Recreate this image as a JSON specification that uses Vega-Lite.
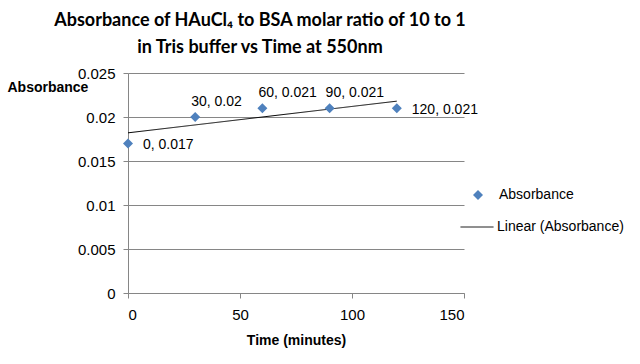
{
  "$schema": "https://vega.github.io/schema/vega-lite/v6.json",
  "width": 336,
  "height": 220,
  "autosize": {"type": "none"},
  "padding": {"left": 128, "top": 73, "right": 176, "bottom": 71},
  "background": "white",
  "title": {
    "text": ["Absorbance of HAuCl₄ to BSA molar ratio of 10 to 1", "in Tris buffer vs Time at 550nm"],
    "anchor": "middle",
    "frame": "group",
    "dx": -36,
    "offset": 9,
    "font": "Lato",
    "fontSize": 18,
    "fontWeight": "bold",
    "color": "#000000",
    "lineHeight": 27
  },
  "data": {
    "values": [
      {"time": 0, "absorbance": 0.017, "label": "0, 0.017"},
      {"time": 30, "absorbance": 0.02, "label": "30, 0.02"},
      {"time": 60, "absorbance": 0.021, "label": "60, 0.021"},
      {"time": 90, "absorbance": 0.021, "label": "90, 0.021"},
      {"time": 120, "absorbance": 0.021, "label": "120, 0.021"}
    ]
  },
  "config": {
    "view": {"stroke": null},
    "font": "Liberation Sans",
    "axis": {
      "labelFont": "Liberation Sans",
      "labelFontSize": 15,
      "labelColor": "#000000",
      "titleFont": "Liberation Sans",
      "titleFontSize": 14,
      "titleFontWeight": "bold",
      "titleColor": "#000000",
      "domainColor": "#868686",
      "tickColor": "#868686",
      "gridColor": "#868686",
      "tickSize": 5
    },
    "legend": {
      "labelFont": "Liberation Sans",
      "labelFontSize": 14,
      "labelColor": "#000000"
    }
  },
  "encoding": {
    "x": {
      "field": "time",
      "type": "quantitative",
      "scale": {"domain": [0, 150], "nice": false},
      "axis": {
        "values": [0, 50, 100, 150],
        "grid": false,
        "title": "Time (minutes)",
        "labelPadding": 9,
        "titlePadding": 11
      }
    },
    "y": {
      "field": "absorbance",
      "type": "quantitative",
      "scale": {"domain": [0, 0.025], "nice": false},
      "axis": {
        "values": [0, 0.005, 0.01, 0.015, 0.02, 0.025],
        "format": "~g",
        "grid": true,
        "title": "Absorbance",
        "titleAngle": 0,
        "titleAlign": "left",
        "titleBaseline": "middle",
        "titleX": -121,
        "titleY": 14,
        "labelPadding": 8
      }
    }
  },
  "layer": [
    {
      "mark": {"type": "line", "color": "#000000", "strokeWidth": 1},
      "transform": [{"regression": "absorbance", "on": "time"}],
      "encoding": {
        "strokeDash": {
          "datum": "Linear (Absorbance)",
          "scale": {"range": [[1, 0]]},
          "legend": {
            "title": null,
            "orient": "none",
            "legendX": 332,
            "legendY": 137,
            "symbolType": "stroke",
            "symbolSize": 1089,
            "symbolStrokeColor": "#000000",
            "symbolStrokeWidth": 1,
            "labelOffset": 3
          }
        }
      }
    },
    {
      "mark": {"type": "point", "shape": "diamond", "filled": true, "size": 100, "opacity": 1},
      "encoding": {
        "color": {
          "datum": "Absorbance",
          "scale": {"range": ["#4F81BD"]},
          "legend": {
            "title": null,
            "orient": "none",
            "legendX": 343,
            "legendY": 115,
            "symbolType": "diamond",
            "symbolSize": 100,
            "symbolOpacity": 1,
            "labelOffset": 14
          }
        }
      }
    },
    {
      "mark": {"type": "text", "align": "left", "baseline": "middle", "dx": 15, "dy": 2, "fontSize": 14, "color": "#000000"},
      "transform": [{"filter": "datum.time == 0 || datum.time == 120"}],
      "encoding": {"text": {"field": "label"}}
    },
    {
      "mark": {"type": "text", "align": "left", "baseline": "middle", "dx": -4, "dy": -15, "fontSize": 14, "color": "#000000"},
      "transform": [{"filter": "datum.time > 0 && datum.time < 120"}],
      "encoding": {"text": {"field": "label"}}
    },
    {
      "data": {"values": [{"trend": "R² = 0.675"}]},
      "mark": {"type": "text", "align": "center", "baseline": "middle", "fontSize": 14, "color": "#000000"},
      "encoding": {
        "x": {"datum": 121.5},
        "y": {"datum": 0.0169},
        "text": {"field": "trend"}
      }
    }
  ]
}
